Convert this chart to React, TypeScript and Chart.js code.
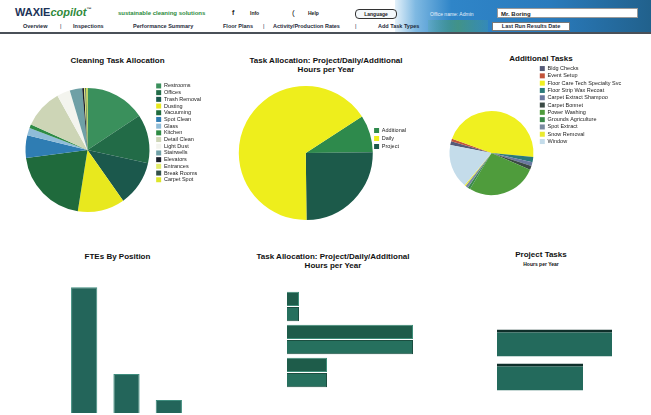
import React, { useEffect, useRef } from "react";
import { Chart, registerables } from "chart.js";

Chart.register(...registerables);

const FONT = "'Liberation Sans', Arial, sans-serif";

// ---------- Data ----------
const cleaningLabels = [
  "Restrooms", "Offices", "Trash Removal", "Dusting", "Vacuuming", "Spot Clean",
  "Glass", "Kitchen", "Detail Clean", "Light Dust", "Stairwells", "Elevators",
  "Entrances", "Break Rooms", "Carpet Spot",
];
const cleaningValues = [16, 13, 12, 12.5, 20.8, 6, 2, 1, 10.4, 3.5, 3.3, 0.5, 0.3, 0.3, 0.3];
const cleaningColors = [
  "#3a905c", "#226b47", "#1b584c", "#e8e81e", "#1f6a3c", "#2f7db3",
  "#8fbcd8", "#2e8b45", "#cdd5b6", "#f3f4ee", "#6fa0a6", "#1a1f2a",
  "#e3ec6a", "#33514a", "#dde62a",
];

const allocLabels = ["Additional", "Project", "Daily"];
const allocValues = [9, 25, 66];
const allocColors = ["#2e8a4c", "#1c5a4a", "#eeee1c"];
const allocLegendRank = [0, 2, 1];

const additionalLabels = [
  "Bldg Checks", "Event Setup", "Floor Care Tech Specialty Svc", "Floor Strip Wax Recoat",
  "Carpet Extract Shampoo", "Carpet Bonnet", "Power Washing", "Grounds Agriculture",
  "Spot Extract", "Snow Removal", "Window",
];
const additionalValues = [1.5, 1, 46, 2, 1.5, 1.5, 27, 1, 1, 0.5, 17];
const additionalColors = [
  "#555a78", "#c2533a", "#f0f020", "#2a7a7a", "#6a78a0", "#3a4a44",
  "#4f9c3c", "#3a8a4a", "#7a8aa0", "#eaea30", "#c4dcea",
];

const fteLabels = ["Custodian", "Lead", "Supervisor"];
const fteValues = [29, 9, 3];

const taskCats = ["Project", "Daily", "Additional"];
const taskHoursA = [12, 126, 40];
const taskHoursB = [12, 126, 40];

const projectCats = ["Floor Care", "Carpet Care"];
const projectHours = [115, 86];

// ---------- Helpers ----------
function ChartBox({ left, top, width, height, make }: any) {
  const ref = useRef<HTMLCanvasElement>(null);
  useEffect(() => {
    const chart = new Chart(ref.current as HTMLCanvasElement, make());
    return () => chart.destroy();
  }, []);
  return (
    <div style={{ position: "absolute", left, top, width, height }}>
      <canvas ref={ref} />
    </div>
  );
}

function pieLegend(size: number, pad: number, push: number, extra: any = {}) {
  return {
    position: "right",
    align: "start",
    title: { display: push > 0, text: "", font: { size: 1 }, padding: { top: 0, bottom: push } },
    labels: {
      boxWidth: 5,
      boxHeight: 5,
      padding: pad,
      color: "#222",
      font: { size, family: FONT },
      ...extra,
    },
  };
}

function pieConfig(labels: string[], values: number[], colors: string[], radius: number, rotation: number, legend: any, padding: any) {
  return {
    type: "pie",
    data: {
      labels,
      datasets: [{ data: values, backgroundColor: colors, borderWidth: 0, radius }],
    },
    options: {
      animation: false,
      responsive: true,
      maintainAspectRatio: false,
      rotation,
      layout: { padding },
      plugins: { legend, tooltip: { enabled: false } },
    },
  };
}

function barConfig(labels: string[], datasets: any[], horizontal: boolean, max: number, barPct: number, catPct: number) {
  return {
    type: "bar",
    data: { labels, datasets },
    options: {
      animation: false,
      responsive: true,
      maintainAspectRatio: false,
      indexAxis: horizontal ? "y" : "x",
      layout: { padding: 0 },
      datasets: { bar: { barPercentage: barPct, categoryPercentage: catPct } },
      scales: {
        x: horizontal ? { display: false, min: 0, max } : { display: false },
        y: horizontal ? { display: false } : { display: false, min: 0, max },
      },
      plugins: { legend: { display: false }, tooltip: { enabled: false } },
    },
  };
}

const titleStyle = (left: number, top: number, width: number, size = 8): React.CSSProperties => ({
  position: "absolute",
  left,
  top,
  width,
  textAlign: "center",
  fontFamily: FONT,
  fontWeight: "bold",
  fontSize: size,
  lineHeight: "9px",
  color: "#111",
  whiteSpace: "nowrap",
});

const navStyle = (left: number): React.CSSProperties => ({
  position: "absolute",
  left,
  top: 23,
  fontFamily: FONT,
  fontWeight: "bold",
  fontSize: 5.5,
  color: "#1e2a3a",
  whiteSpace: "nowrap",
});

export default function App() {
  return (
    <div
      style={{
        position: "fixed",
        left: 0,
        top: 0,
        width: 651,
        height: 415,
        background: "#fff",
        overflow: "hidden",
        fontFamily: FONT,
      }}
    >
      {/* Header band */}
      <div
        style={{
          position: "absolute",
          left: 395,
          top: 0,
          width: 256,
          height: 33,
          background: "linear-gradient(90deg, #e4f1fa 0%, #7fb9e2 8%, #2f85c8 22%, #2a7bbd 60%, #21618c 100%)",
        }}
      />
      <div style={{ position: "absolute", left: 428, top: 20, width: 60, height: 12, background: "linear-gradient(90deg, rgba(80,170,140,0.2), rgba(70,150,120,0.8), rgba(80,170,140,0.2))" }} />
      <div style={{ position: "absolute", left: 0, top: 32, width: 651, height: 2, background: "#4a5058" }} />

      {/* Logo */}
      <div style={{ position: "absolute", left: 15, top: 6, fontFamily: FONT, fontWeight: "bold", fontSize: 11, whiteSpace: "nowrap" }}>
        <span style={{ color: "#1d3358" }}>WAXIE</span>
        <span style={{ color: "#2f8a3a", fontStyle: "italic" }}>copilot</span>
        <span style={{ color: "#333", fontSize: 5, verticalAlign: "top" }}>™</span>
      </div>
      <div style={{ position: "absolute", left: 118, top: 10, fontFamily: FONT, fontWeight: "bold", fontSize: 6, color: "#2e8b3e", whiteSpace: "nowrap" }}>
        sustainable cleaning solutions
      </div>
      <div style={{ position: "absolute", left: 232, top: 9, fontSize: 7, fontWeight: "bold", color: "#222" }}>f</div>
      <div style={{ position: "absolute", left: 250, top: 10, fontSize: 5, fontWeight: "bold", color: "#222" }}>Info</div>
      <div style={{ position: "absolute", left: 292, top: 8, fontSize: 8, color: "#222" }}>(</div>
      <div style={{ position: "absolute", left: 308, top: 10, fontSize: 5, fontWeight: "bold", color: "#222" }}>Help</div>
      <div
        style={{
          position: "absolute",
          left: 355,
          top: 9,
          width: 40,
          height: 8,
          borderRadius: 4,
          border: "1px solid #333",
          background: "#f4f8fb",
          fontSize: 5,
          fontWeight: "bold",
          lineHeight: "8px",
          textAlign: "center",
          color: "#222",
        }}
      >
        Language
      </div>
      <div style={{ position: "absolute", left: 430, top: 11, fontSize: 5, color: "#e8f2fb", whiteSpace: "nowrap" }}>
        Office name: Admin
      </div>
      <div
        style={{
          position: "absolute",
          left: 497,
          top: 8,
          width: 141,
          height: 10,
          background: "#fff",
          border: "1px solid #999",
          fontSize: 6,
          fontWeight: "bold",
          lineHeight: "10px",
          paddingLeft: 3,
          color: "#222",
          boxSizing: "border-box",
        }}
      >
        Mr. Boring
      </div>

      {/* Nav */}
      <div style={navStyle(23)}>Overview</div>
      <div style={{ ...navStyle(60), fontWeight: "normal" }}>|</div>
      <div style={navStyle(73)}>Inspections</div>
      <div style={navStyle(133)}>Performance Summary</div>
      <div style={navStyle(223)}>Floor Plans</div>
      <div style={{ ...navStyle(263), fontWeight: "normal" }}>|</div>
      <div style={navStyle(273)}>Activity/Production Rates</div>
      <div style={{ ...navStyle(355), fontWeight: "normal" }}>|</div>
      <div style={navStyle(378)}>Add Task Types</div>
      <div
        style={{
          ...navStyle(492),
          top: 22,
          width: 76,
          height: 7,
          background: "#fff",
          border: "1px solid #777",
          textAlign: "center",
          lineHeight: "7px",
        }}
      >
        Last Run Results Date
      </div>

      {/* Titles */}
      <div style={titleStyle(20, 56, 195)}>Cleaning Task Allocation</div>
      <div style={titleStyle(226, 56, 200)}>
        Task Allocation: Project/Daily/Additional
        <br />
        Hours per Year
      </div>
      <div style={titleStyle(450, 54, 182)}>Additional Tasks</div>
      <div style={titleStyle(20, 252, 195)}>FTEs By Position</div>
      <div style={titleStyle(233, 252, 200)}>
        Task Allocation: Project/Daily/Additional
        <br />
        Hours per Year
      </div>
      <div style={titleStyle(450, 250, 182)}>Project Tasks</div>
      <div style={{ ...titleStyle(450, 260, 182, 5) }}>Hours per Year</div>

      {/* Charts */}
      <ChartBox
        left={8}
        top={82}
        width={207}
        height={136}
        make={() => pieConfig(cleaningLabels, cleaningValues, cleaningColors, 62, 0, pieLegend(5.5, 1.2, 0), { left: 12, right: 4 })}
      />
      <ChartBox
        left={230}
        top={86}
        width={190}
        height={134}
        make={() =>
          pieConfig(
            allocLabels,
            allocValues,
            allocColors,
            67,
            57,
            pieLegend(5.5, 2.5, 38, { sort: (a: any, b: any) => allocLegendRank[a.index] - allocLegendRank[b.index] }),
            { left: 10, right: 4 }
          )
        }
      />
      <ChartBox
        left={445}
        top={64}
        width={190}
        height={178}
        make={() => pieConfig(additionalLabels, additionalValues, additionalColors, 42, -79, pieLegend(5.5, 1.8, 0), { right: 4 })}
      />

      <ChartBox
        left={63}
        top={283}
        width={127}
        height={130}
        make={() =>
          barConfig(fteLabels, [{ data: fteValues, backgroundColor: "#23655a", borderColor: "#3f8d7e", borderWidth: 1 }], false, 30, 0.62, 1)
        }
      />
      <ChartBox
        left={287}
        top={290}
        width={130}
        height={99}
        make={() =>
          barConfig(
            taskCats,
            [
              { label: "Hours", data: taskHoursA, backgroundColor: "#1e5c4a", borderColor: "#3d8c78", borderWidth: 1 },
              { label: "Hours (prev)", data: taskHoursB, backgroundColor: "#26705e", borderColor: "#1b4e40", borderWidth: 1 },
            ],
            true,
            130,
            0.95,
            0.92
          )
        }
      />
      <ChartBox
        left={497}
        top={326}
        width={120}
        height={68}
        make={() =>
          barConfig(
            projectCats,
            [{ data: projectHours, backgroundColor: "#236a5c", borderColor: "#0f2f2a", borderWidth: { top: 3, bottom: 0, left: 0, right: 0 } }],
            true,
            120,
            0.8,
            1
          )
        }
      />
    </div>
  );
}
